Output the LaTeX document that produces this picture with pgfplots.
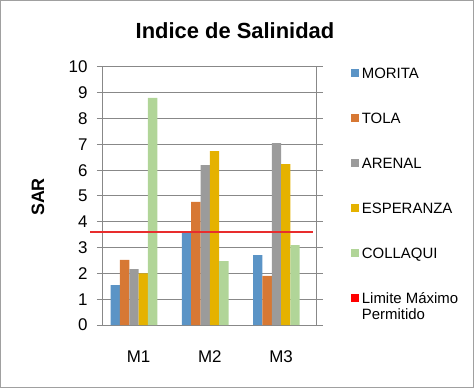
\documentclass[border=0pt]{standalone}
\usepackage{pgfplots}
\pgfplotsset{compat=1.18}
\usepackage{fontspec}
\setmainfont{Liberation Sans}
\definecolor{cmor}{RGB}{91,148,198}
\definecolor{ctol}{RGB}{215,120,52}
\definecolor{care}{RGB}{155,155,155}
\definecolor{cesp}{RGB}{229,178,0}
\definecolor{ccol}{RGB}{177,213,152}
\definecolor{cgrid}{RGB}{136,136,136}
\definecolor{cframe}{RGB}{160,160,160}
\definecolor{cline}{RGB}{232,45,45}
\begin{document}
\begin{tikzpicture}
\draw[cframe, line width=1bp] (-102.5bp,-62.5bp) rectangle (370.5bp,324.5bp);
\begin{axis}[
  at={(0,0)}, anchor=south west,
  scale only axis, width=213.7bp, height=258bp,
  xmin=-0.5, xmax=2.5, ymin=0, ymax=10,
  xtick={0,1,2}, xticklabels={M1,M2,M3},
  ytick={0,1,...,10},
  ymajorgrids, grid style={cgrid, line width=1bp},
  axis line style={cgrid, line width=1bp},
  tick align=outside, major tick length=6bp,
  ytick style={cgrid, line width=1bp},
  xtick style={draw=none},
  /pgf/number format/assume math mode=true,
  tick label style={font=\fontsize{17}{20}\selectfont},
  xticklabel style={yshift=-16bp},
  yticklabel style={xshift=-6bp},
  bar width=0.131,
  clip=false,
  legend style={draw=none, fill=none, at={(1.159,1)}, anchor=north west,
    inner sep=0pt, row sep=34bp, column sep=3bp,
    nodes={inner sep=0pt, font=\fontsize{15}{16}\selectfont, text height=11bp, text depth=0bp}},
  legend cell align=left,
  legend image code/.code={\fill[#1] (0bp,-4bp) rectangle (8bp,4bp);},
]
\addplot[ybar, bar shift=-0.3275, fill=cmor, draw=none] coordinates {(0,1.55) (1,3.64) (2,2.71)};
\addlegendentry{MORITA}
\addplot[ybar, bar shift=-0.1965, fill=ctol, draw=none] coordinates {(0,2.52) (1,4.77) (2,1.90)};
\addlegendentry{TOLA}
\addplot[ybar, bar shift=-0.0655, fill=care, draw=none] coordinates {(0,2.17) (1,6.20) (2,7.05)};
\addlegendentry{ARENAL}
\addplot[ybar, bar shift=0.0655, fill=cesp, draw=none] coordinates {(0,2.00) (1,6.74) (2,6.24)};
\addlegendentry{ESPERANZA}
\addplot[ybar, bar shift=0.1965, fill=ccol, draw=none] coordinates {(0,8.80) (1,2.48) (2,3.10)};
\addlegendentry{COLLAQUI}
\addplot[fill=cline, draw=none, forget plot] coordinates {(-0.683,3.585) (2.448,3.585) (2.448,3.655) (-0.683,3.655)} --cycle;
\addlegendimage{fill=red, draw=none}
\addlegendentry{\vtop{\hbox{Limite Máximo}\hbox{Permitido}}}
\end{axis}
\node[anchor=base, font=\bfseries\fontsize{22}{25}\selectfont] at (132bp,286.7bp) {Indice de Salinidad};
\node[rotate=90, font=\bfseries\fontsize{18}{20}\selectfont] at (-65bp,128bp) {SAR};
\end{tikzpicture}
\end{document}
